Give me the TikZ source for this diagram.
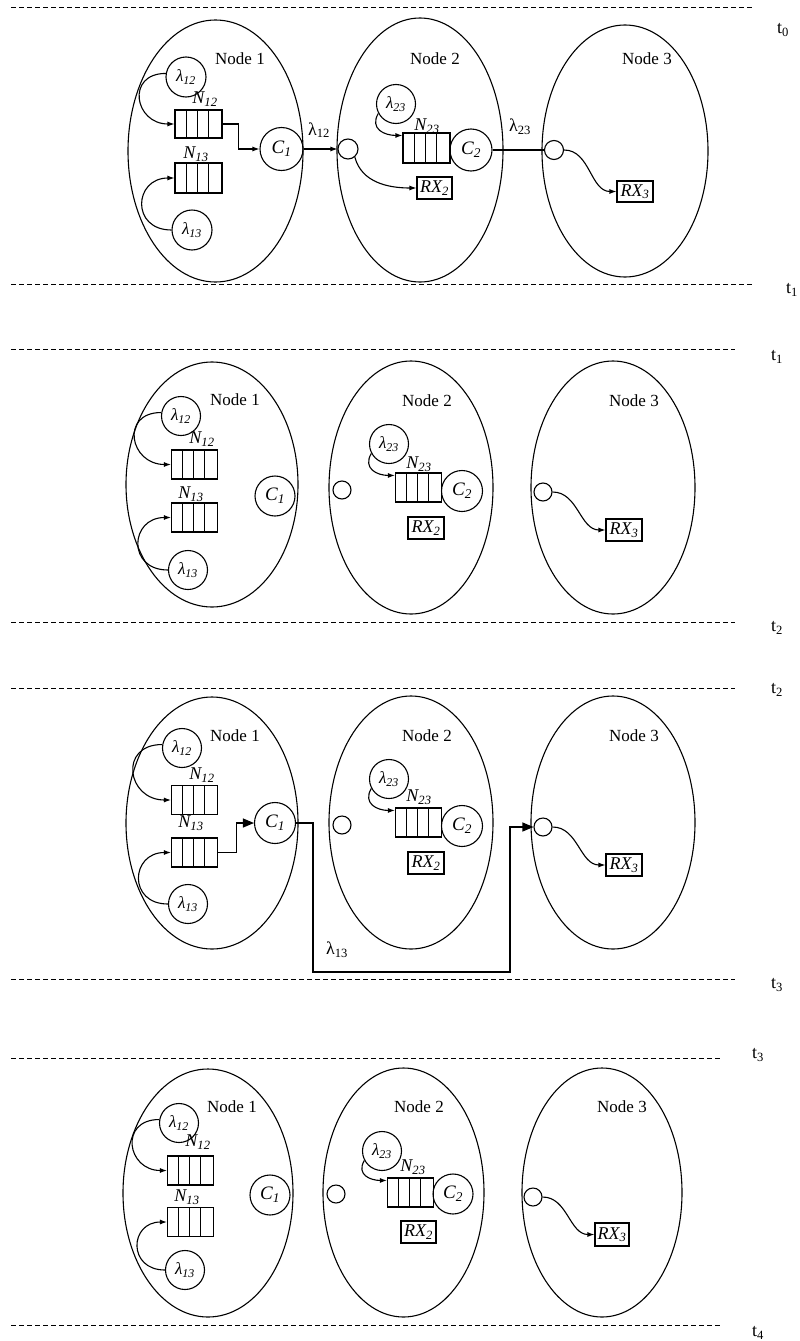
\documentclass[tikz,border=0pt]{standalone}
\usepackage{fontspec}
\setmainfont{Liberation Serif}
\usetikzlibrary{shapes.geometric,arrows.meta,calc}
\newcommand\fsz[1]{\fontsize{#1}{#1}\selectfont}
\newcommand\sbs[1]{\textsubscript{#1}}
\tikzset{
  ell/.style={draw, ellipse, inner sep=0pt, line width=1.1pt},
  bub/.style={draw, circle, inner sep=0pt, minimum size=39pt, line width=1.1pt, font=\fsz{17}\itshape},
  cn/.style={draw, circle, inner sep=0pt, minimum size=41pt, line width=1.1pt, font=\fsz{19}\itshape},
  port/.style={draw, circle, inner sep=0pt, minimum size=19pt, line width=1.1pt},
  rx/.style={draw, rectangle, inner sep=1pt, minimum width=35pt, minimum height=22pt, line width=1.1pt, font=\fsz{18}\itshape},
  queue/.style={draw, rectangle, inner sep=0pt, minimum width=46pt, minimum height=29pt, line width=1.1pt,
    path picture={\foreach \f in {0.24,0.47,0.72}{\draw[line width=1.1pt] ($(path picture bounding box.north west)!\f!(path picture bounding box.north east)$) -- ($(path picture bounding box.south west)!\f!(path picture bounding box.south east)$);}}},
  nlab/.style={font=\fsz{17}},
  qlab/.style={font=\fsz{18}\itshape},
  tlab/.style={font=\fsz{18}},
  sep/.style={line width=1pt, dash pattern=on 4.7pt off 3.3pt},
  wire/.style={line width=1.1pt},
  arr/.style={wire, -{Latex[length=7pt,width=5pt]}},
  barr/.style={wire, -{Triangle[length=11pt,width=9pt]}}
}
\begin{document}
\begin{tikzpicture}[x=1pt,y=-1pt]
\useasboundingbox (0,0) rectangle (800,1341);

% ===== separators and time labels =====
\draw[sep] (11,7) -- (753,7);
\draw[sep] (11,284) -- (753,284);
\draw[sep] (11,349) -- (735,349);
\draw[sep] (11,622) -- (735,622);
\draw[sep] (11,688) -- (735,688);
\draw[sep] (11,979) -- (735,979);
\draw[sep] (11,1058) -- (722,1058);
\draw[sep] (11,1325) -- (722,1325);
\node[tlab] (t0) at (783,30) {t\sbs{0}};
\node[tlab] (t1a) at (792,290) {t\sbs{1}};
\node[tlab] (t1b) at (777,357) {t\sbs{1}};
\node[tlab] (t2a) at (777,628) {t\sbs{2}};
\node[tlab] (t2b) at (777,690) {t\sbs{2}};
\node[tlab] (t3a) at (777,985) {t\sbs{3}};
\node[tlab] (t3b) at (758,1055) {t\sbs{3}};
\node[tlab] (t4) at (758,1333) {t\sbs{4}};

% ===== Panel 1 =====
\node[ell, minimum width=175pt, minimum height=262pt] (E1a) at (215.5,151) {};
\node[ell, minimum width=166pt, minimum height=264pt] (E2a) at (420,150) {};
\node[ell, minimum width=166pt, minimum height=252pt] (E3a) at (625,151) {};
\node[nlab] (n1a) at (240,59) {Node 1};
\node[nlab] (n2a) at (435,59) {Node 2};
\node[nlab] (n3a) at (647,59) {Node 3};
\node[bub, minimum size=40pt] (l12a) at (186,77) {λ\sbs{12}};
\node[qlab] (N12a) at (205,99) {N\sbs{12}};
\node[queue, minimum width=47pt, minimum height=28pt] (q12a) at (198.5,124) {};
\node[qlab] (N13a) at (196,154) {N\sbs{13}};
\node[queue, minimum width=47pt, minimum height=30pt] (q13a) at (198.5,178) {};
\node[bub, minimum size=40pt] (l13a) at (192,230) {λ\sbs{13}};
\node[cn, minimum size=43pt] (C1a) at (281.5,149) {C\sbs{1}};
\node[port, minimum size=20pt] (p2a) at (348,149) {};
\node[rx] (RX2a) at (434.5,188) {RX\sbs{2}};
\node[bub] (l23a) at (396,104) {λ\sbs{23}};
\node[qlab] (N23a) at (427,126) {N\sbs{23}};
\node[queue, minimum width=47pt, minimum height=30pt] (q23a) at (426.5,148) {};
\node[cn, minimum size=42pt] (C2a) at (471,150) {C\sbs{2}};
\node[port] (p3a) at (554,150) {};
\node[rx, minimum width=36pt, minimum height=21pt] (RX3a) at (635,191.5) {RX\sbs{3}};
\node[nlab, font=\fsz{18}] (L12a) at (319,130) {λ\sbs{12}};
\node[nlab, font=\fsz{18}] (L23a) at (520,127) {λ\sbs{23}};
\draw[arr] (l12a.170) to[out=180,in=180,looseness=2] (q12a.west);
\draw[arr] (l13a.180) to[out=180,in=180,looseness=2] (q13a.west);
\draw[arr] (l23a.208) to[out=240,in=180,looseness=1.4] ([yshift=-3pt]q23a.north west);
\draw[arr] (q12a.east) -- ++(16,0) |- (C1a.west);
\draw[arr] (C1a.east) -- (p2a.west);
\draw[arr] (p2a.-50) to[out=-75,in=180] (RX2a.west);
\draw[wire] (C2a.east) -- (p3a.west);
\draw[arr] (p3a.east) to[out=0,in=180] (RX3a.west);

% ===== Panel 2 =====
\node[ell, minimum width=172pt, minimum height=245pt] (E1b) at (212,484.5) {};
\node[ell, minimum width=164pt, minimum height=253pt] (E2b) at (411,487.5) {};
\node[ell, minimum width=164pt, minimum height=253pt] (E3b) at (613,487.5) {};
\node[nlab] (n1b) at (235,400) {Node 1};
\node[nlab] (n2b) at (427,401) {Node 2};
\node[nlab] (n3b) at (634,401) {Node 3};
\node[bub] (l12b) at (181,416) {λ\sbs{12}};
\node[qlab] (N12b) at (202,439) {N\sbs{12}};
\node[queue] (q12b) at (194.5,464.5) {};
\node[qlab] (N13b) at (191,494) {N\sbs{13}};
\node[queue] (q13b) at (194.5,517.5) {};
\node[bub] (l13b) at (188,570) {λ\sbs{13}};
\node[cn, minimum size=40pt] (C1b) at (275,496) {C\sbs{1}};
\node[port, minimum size=18pt] (p2b) at (342,490) {};
\node[bub] (l23b) at (389,444) {λ\sbs{23}};
\node[qlab] (N23b) at (419,464) {N\sbs{23}};
\node[queue] (q23b) at (418.5,487.5) {};
\node[cn] (C2b) at (462,491) {C\sbs{2}};
\node[rx, minimum width=36pt] (RX2b) at (426,528) {RX\sbs{2}};
\node[port, minimum size=18pt] (p3b) at (543,492) {};
\node[rx, minimum width=36pt] (RX3b) at (624,530) {RX\sbs{3}};
\draw[arr] (l12b.170) to[out=180,in=180,looseness=2] (q12b.west);
\draw[arr] (l13b.180) to[out=180,in=180,looseness=2] (q13b.west);
\draw[arr] (l23b.208) to[out=240,in=180,looseness=1.4] ([yshift=-3pt]q23b.north west);
\draw[arr] (p3b.east) to[out=0,in=180] (RX3b.west);

% ===== Panel 3 =====
\node[ell, minimum width=172pt, minimum height=252pt] (E1c) at (212,823) {};
\node[ell, minimum width=164pt, minimum height=253pt] (E2c) at (411,822.5) {};
\node[ell, minimum width=164pt, minimum height=253pt] (E3c) at (613,822.5) {};
\node[nlab] (n1c) at (235,736) {Node 1};
\node[nlab] (n2c) at (427,736) {Node 2};
\node[nlab] (n3c) at (634,736) {Node 3};
\node[bub] (l12c) at (182,748) {λ\sbs{12}};
\node[qlab] (N12c) at (202,775) {N\sbs{12}};
\node[queue] (q12c) at (194.5,800) {};
\node[qlab] (N13c) at (191,823) {N\sbs{13}};
\node[queue] (q13c) at (194.5,852.5) {};
\node[bub] (l13c) at (188,904) {λ\sbs{13}};
\node[cn] (C1c) at (275,823) {C\sbs{1}};
\node[port, minimum size=18pt] (p2c) at (342,825) {};
\node[bub] (l23c) at (389,779) {λ\sbs{23}};
\node[qlab] (N23c) at (419,797) {N\sbs{23}};
\node[queue] (q23c) at (418.5,822.5) {};
\node[cn] (C2c) at (462,826) {C\sbs{2}};
\node[rx, minimum width=36pt] (RX2c) at (426,863) {RX\sbs{2}};
\node[port, minimum size=18pt] (p3c) at (543,827) {};
\node[rx, minimum width=36pt] (RX3c) at (624,865) {RX\sbs{3}};
\node[nlab, font=\fsz{18}] (L13c) at (337,950) {λ\sbs{13}};
\coordinate (b1) at (313,972);
\coordinate (b2) at (510,972);
\draw[arr] (l12c.170) to[out=180,in=180,looseness=2] (q12c.west);
\draw[arr] (l13c.180) to[out=180,in=180,looseness=2] (q13c.west);
\draw[arr] (l23c.208) to[out=240,in=180,looseness=1.4] ([yshift=-3pt]q23c.north west);
\draw[arr] (p3c.east) to[out=0,in=180] (RX3c.west);
\draw[barr] (q13c.east) -- ++(18,0) |- (C1c.west);
\draw[barr] (C1c.east) -| (b1) -- (b2) |- (p3c.west);

% ===== Panel 4 =====
\node[ell, minimum width=170pt, minimum height=248pt] (E1d) at (208,1193) {};
\node[ell, minimum width=161pt, minimum height=249pt] (E2d) at (403.5,1192.5) {};
\node[ell, minimum width=160pt, minimum height=249pt] (E3d) at (602,1192.5) {};
\node[nlab] (n1d) at (232,1107) {Node 1};
\node[nlab] (n2d) at (419,1107) {Node 2};
\node[nlab] (n3d) at (622,1107) {Node 3};
\node[bub] (l12d) at (179,1123) {λ\sbs{12}};
\node[qlab] (N12d) at (198,1142) {N\sbs{12}};
\node[queue] (q12d) at (190.5,1170.5) {};
\node[qlab] (N13d) at (187,1197) {N\sbs{13}};
\node[queue] (q13d) at (190.5,1222) {};
\node[bub] (l13d) at (185,1270) {λ\sbs{13}};
\node[cn, minimum size=40pt] (C1d) at (270,1195) {C\sbs{1}};
\node[port, minimum size=18pt] (p2d) at (336,1194) {};
\node[bub] (l23d) at (382,1151) {λ\sbs{23}};
\node[qlab] (N23d) at (413,1167) {N\sbs{23}};
\node[queue] (q23d) at (410.5,1192.5) {};
\node[cn, minimum size=40pt] (C2d) at (453,1194) {C\sbs{2}};
\node[rx] (RX2d) at (418.5,1232) {RX\sbs{2}};
\node[port, minimum size=18pt] (p3d) at (533,1197) {};
\node[rx, minimum width=34pt, minimum height=23pt] (RX3d) at (612,1234.5) {RX\sbs{3}};
\draw[arr] (l12d.170) to[out=180,in=180,looseness=2] (q12d.west);
\draw[arr] (l13d.180) to[out=180,in=180,looseness=2] (q13d.west);
\draw[arr] (l23d.208) to[out=240,in=180,looseness=1.4] ([yshift=-3pt]q23d.north west);
\draw[arr] (p3d.east) to[out=0,in=180] (RX3d.west);
\end{tikzpicture}
\end{document}
